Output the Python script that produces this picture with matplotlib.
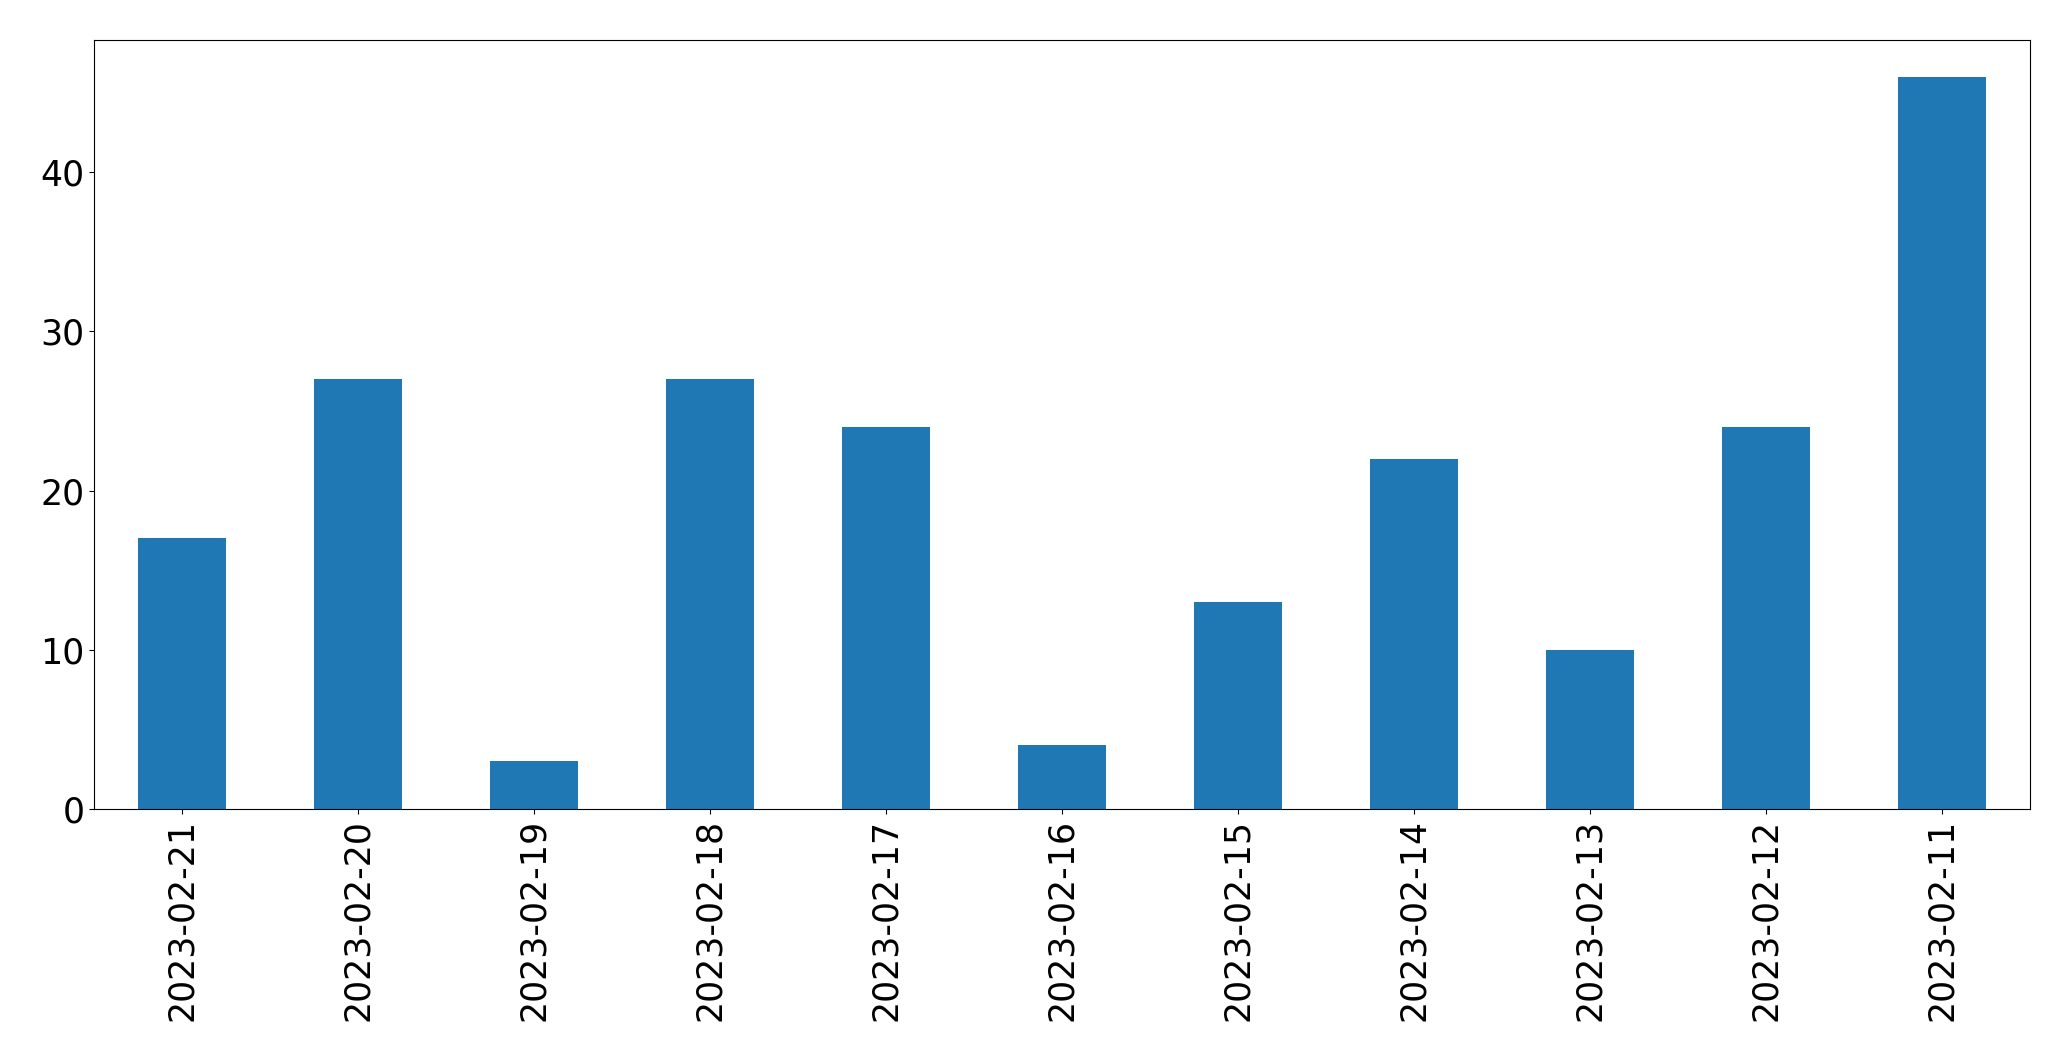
import matplotlib
matplotlib.use('Agg')
import matplotlib.pyplot as plt
import numpy as np

dates = ['2023-02-21', '2023-02-20', '2023-02-19', '2023-02-18', '2023-02-17',
         '2023-02-16', '2023-02-15', '2023-02-14', '2023-02-13', '2023-02-12',
         '2023-02-11']
counts = [17, 27, 3, 27, 24, 4, 13, 22, 10, 24, 46]

fig = plt.figure(figsize=(20.71, 10.61), dpi=100)
ax = fig.add_axes([94 / 2071, 1 - 809 / 1061, (2030 - 94) / 2071, (809 - 40) / 1061])

x = np.arange(len(dates))
ax.bar(x, counts, width=0.5, color='#1f77b4')
ax.set_xlim(-0.5, len(dates) - 0.5)
ax.set_ylim(0, max(counts) * 1.05)
ax.set_xticks(x)
ax.set_xticklabels(dates, rotation=90)
ax.tick_params(labelsize=25)

fig.savefig('out.png', dpi=100)
